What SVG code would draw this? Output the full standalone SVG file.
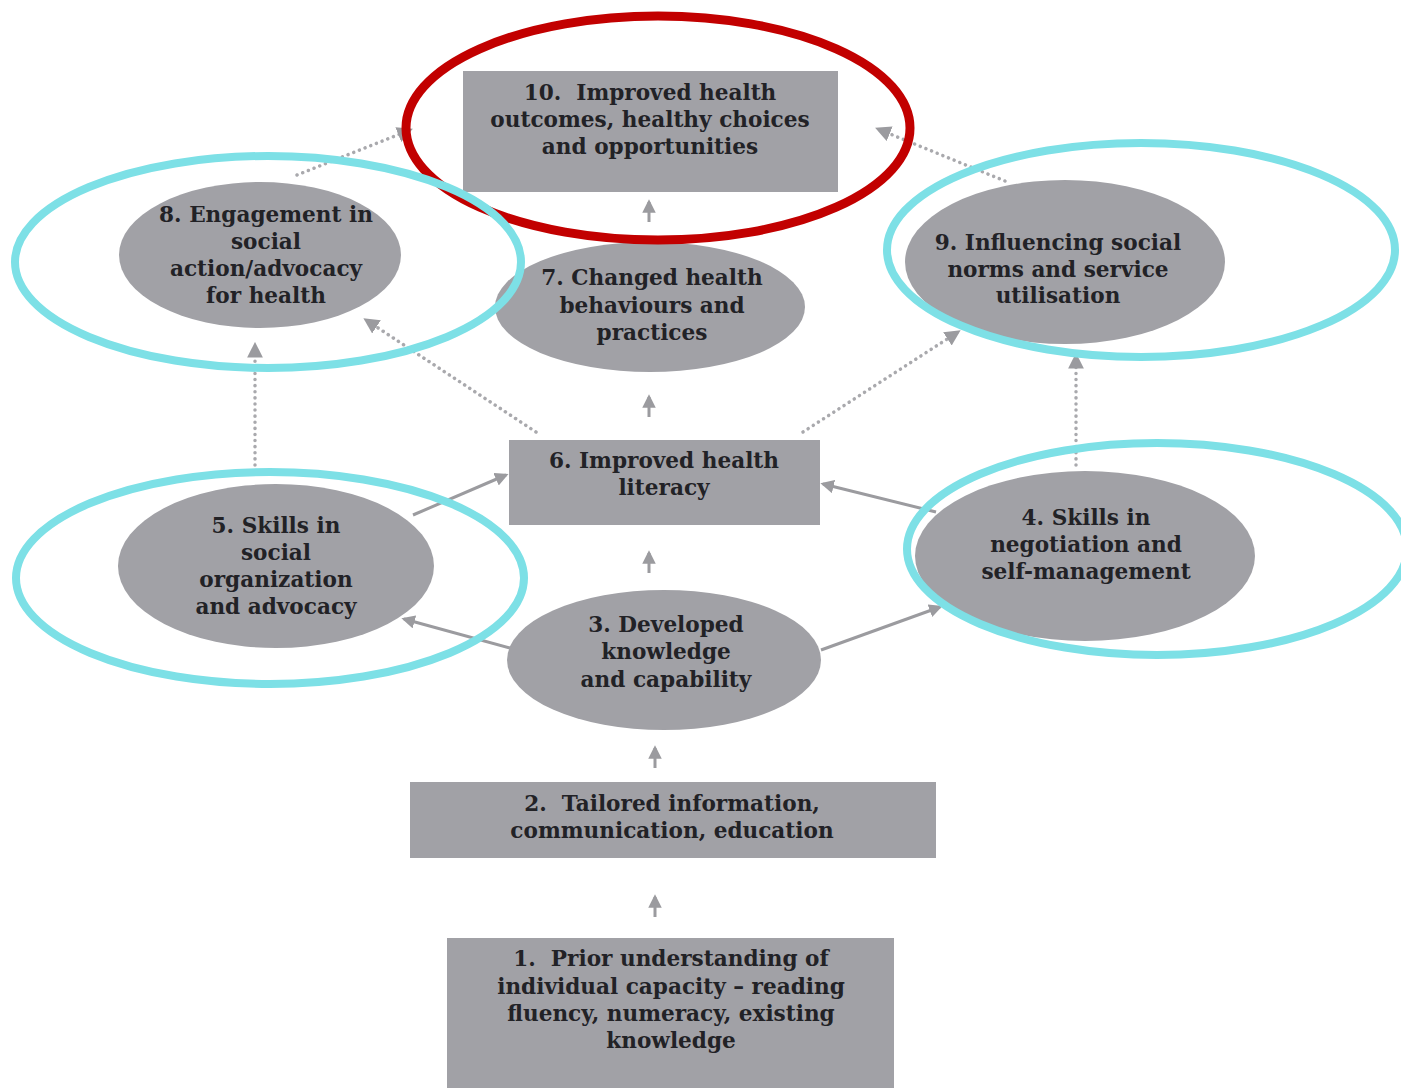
<svg xmlns="http://www.w3.org/2000/svg" width="1401" height="1088" viewBox="0 0 1401 1088">
  <style>
    .node { fill: #a1a1a6; }
    .lbl { font-family: "DejaVu Serif", "Liberation Serif", serif; font-weight: bold; font-size: 21.6px; fill: #222226; text-anchor: middle; white-space: pre; }
    .solid { stroke: #9b9b9f; stroke-width: 3; fill: none; marker-end: url(#head); }
    .dotted { stroke: #a9a9ad; stroke-width: 3.5; fill: none; stroke-dasharray: 0.1 6; stroke-linecap: round; marker-end: url(#head); }
    .ring-cyan { fill: none; stroke: #7de0e6; stroke-width: 8; }
    .ring-red { fill: none; stroke: #c20000; stroke-width: 9; }
  </style>
  <defs>
    <marker id="head" viewBox="0 0 10 10" refX="8" refY="5" markerWidth="4.5" markerHeight="4.5" orient="auto" markerUnits="strokeWidth">
      <path d="M0,0 L10,5 L0,10 Z" fill="#9b9b9f"/>
    </marker>
  </defs>
  <rect width="1401" height="1088" fill="#ffffff"/>

  <!-- connectors -->
  <g id="connectors">
    <!-- upward flow arrows on the central spine -->
    <line class="solid" x1="649" y1="222" x2="649" y2="202"/>
    <line class="solid" x1="649" y1="417" x2="649" y2="397"/>
    <line class="solid" x1="649" y1="573" x2="649" y2="553"/>
    <line class="solid" x1="655" y1="768" x2="655" y2="748"/>
    <line class="solid" x1="655" y1="917" x2="655" y2="897"/>
    <!-- branches through the skills nodes -->
    <line class="solid" x1="413" y1="515" x2="506" y2="475"/>
    <line class="solid" x1="510" y1="648" x2="404" y2="619"/>
    <line class="solid" x1="821" y1="650" x2="940" y2="607"/>
    <line class="solid" x1="936" y1="512" x2="823" y2="484"/>
    <!-- dotted outcome links -->
    <line class="dotted" x1="297" y1="175" x2="410" y2="130"/>
    <line class="dotted" x1="1005" y1="181" x2="878" y2="129"/>
    <line class="dotted" x1="536" y1="432" x2="366" y2="320"/>
    <line class="dotted" x1="803" y1="432" x2="958" y2="332"/>
    <line class="dotted" x1="255" y1="465" x2="255" y2="345"/>
    <line class="dotted" x1="1076" y1="465" x2="1076" y2="356"/>
  </g>

  <g id="n10">
    <rect class="node" x="463" y="71" width="375" height="121"/>
    <text class="lbl" xml:space="preserve"><tspan x="650" y="100">10.  Improved health</tspan><tspan x="650" y="127">outcomes, healthy choices</tspan><tspan x="650" y="154">and opportunities</tspan></text>
  </g>

  <g id="n8">
    <ellipse class="node" cx="260" cy="255" rx="141" ry="73"/>
    <text class="lbl"><tspan x="266" y="222">8. Engagement in</tspan><tspan x="266" y="249">social</tspan><tspan x="266" y="276">action/advocacy</tspan><tspan x="266" y="303">for health</tspan></text>
  </g>

  <g id="n7">
    <ellipse class="node" cx="650" cy="307" rx="155" ry="65"/>
    <text class="lbl"><tspan x="652" y="285">7. Changed health</tspan><tspan x="652" y="313">behaviours and</tspan><tspan x="652" y="340">practices</tspan></text>
  </g>

  <g id="n9">
    <ellipse class="node" cx="1065" cy="262" rx="160" ry="82"/>
    <text class="lbl"><tspan x="1058" y="250">9. Influencing social</tspan><tspan x="1058" y="277">norms and service</tspan><tspan x="1058" y="303">utilisation</tspan></text>
  </g>

  <g id="n6">
    <rect class="node" x="509" y="440" width="311" height="85"/>
    <text class="lbl"><tspan x="664" y="468">6. Improved health</tspan><tspan x="664" y="495">literacy</tspan></text>
  </g>

  <g id="n5">
    <ellipse class="node" cx="276" cy="566" rx="158" ry="82"/>
    <text class="lbl"><tspan x="276" y="533">5. Skills in</tspan><tspan x="276" y="560">social</tspan><tspan x="276" y="587">organization</tspan><tspan x="276" y="614">and advocacy</tspan></text>
  </g>

  <g id="n4">
    <ellipse class="node" cx="1085" cy="556" rx="170" ry="85"/>
    <text class="lbl"><tspan x="1086" y="525">4. Skills in</tspan><tspan x="1086" y="552">negotiation and</tspan><tspan x="1086" y="579">self-management</tspan></text>
  </g>

  <g id="n3">
    <ellipse class="node" cx="664" cy="660" rx="157" ry="70"/>
    <text class="lbl"><tspan x="666" y="632">3. Developed</tspan><tspan x="666" y="659">knowledge</tspan><tspan x="666" y="687">and capability</tspan></text>
  </g>

  <g id="n2">
    <rect class="node" x="410" y="782" width="526" height="76"/>
    <text class="lbl" xml:space="preserve"><tspan x="672" y="811">2.  Tailored information,</tspan><tspan x="672" y="838">communication, education</tspan></text>
  </g>

  <g id="n1">
    <rect class="node" x="447" y="938" width="447" height="150"/>
    <text class="lbl" xml:space="preserve"><tspan x="671" y="966">1.  Prior understanding of</tspan><tspan x="671" y="994">individual capacity – reading</tspan><tspan x="671" y="1021">fluency, numeracy, existing</tspan><tspan x="671" y="1048">knowledge</tspan></text>
  </g>

  <!-- highlight rings -->
  <g id="highlights">
    <ellipse class="ring-red" cx="658" cy="128" rx="252" ry="112"/>
    <ellipse class="ring-cyan" cx="268" cy="262" rx="253" ry="106"/>
    <ellipse class="ring-cyan" cx="1141" cy="250" rx="254" ry="107"/>
    <ellipse class="ring-cyan" cx="270" cy="578" rx="254" ry="106"/>
    <ellipse class="ring-cyan" cx="1157" cy="549" rx="250" ry="106"/>
  </g>
</svg>
